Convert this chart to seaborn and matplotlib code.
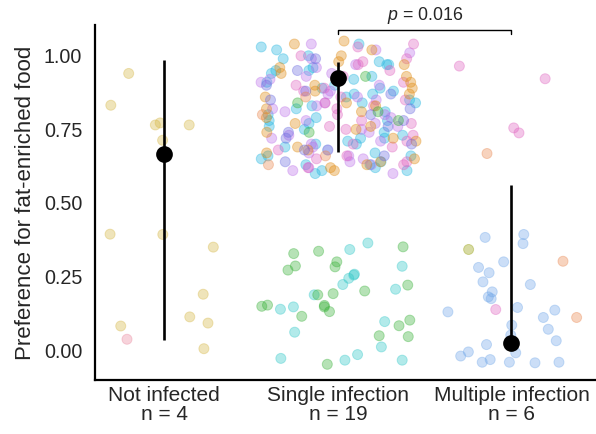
import numpy as np
import pandas as pd
import matplotlib
matplotlib.use("Agg")
import matplotlib.pyplot as plt
import seaborn as sns

# ---------------- data ----------------
categories = ["Not infected", "Single infection", "Multiple infection"]
n_labels = ["n = 4", "n = 19", "n = 6"]

# Not infected
ni_tan = [0.94, 0.832, 0.772, 0.765, 0.765, 0.713, 0.394, 0.393, 0.35,
          0.19, 0.113, 0.082, 0.092, 0.005]
ni_rose = [0.037]

# Single infection (upper cloud)
si_cyan = [1.04, 1.03, 1.02, 1.00, 0.99, 0.98, 0.97, 0.96, 0.95, 0.95, 0.94,
           0.93, 0.92, 0.91, 0.90, 0.89, 0.88, 0.87, 0.87, 0.86, 0.85, 0.84,
           0.83, 0.82, 0.81, 0.80, 0.79, 0.78, 0.77, 0.76, 0.75, 0.74, 0.73,
           0.72, 0.71, 0.70, 0.70, 0.69, 0.68, 0.67, 0.66, 0.65, 0.64, 0.63,
           0.63, 0.62, 0.61, 0.61, 0.60, 0.97, 0.89, 0.84, 0.78, 0.72, 0.66]
si_lavender = [1.04, 1.02, 1.01, 0.99, 0.97, 0.96, 0.94, 0.92, 0.91, 0.90,
               0.88, 0.86, 0.85, 0.84, 0.83, 0.81, 0.80, 0.79, 0.77, 0.76,
               0.75, 0.74, 0.73, 0.71, 0.70, 0.68, 0.67, 0.66, 0.65, 0.64,
               0.62, 0.61, 0.60, 0.93, 0.87, 0.82, 0.78, 0.72, 0.69, 0.63]
si_pink = [1.04, 1.03, 1.00, 0.98, 0.97, 0.95, 0.93, 0.91, 0.89, 0.88, 0.86,
           0.85, 0.83, 0.82, 0.80, 0.78, 0.76, 0.75, 0.73, 0.71, 0.69, 0.68,
           0.66, 0.65, 0.63, 0.62, 0.99, 0.90, 0.84, 0.77, 0.70, 0.64]
si_orange = [1.05, 1.04, 1.02, 1.00, 0.98, 0.96, 0.94, 0.93, 0.91, 0.89,
             0.88, 0.86, 0.84, 0.83, 0.81, 0.79, 0.77, 0.76, 0.74, 0.72,
             0.71, 0.69, 0.67, 0.65, 0.64, 0.62, 0.61, 0.97, 0.90, 0.82,
             0.75, 0.68, 0.63, 0.87]
si_violet = [0.99, 0.95, 0.90, 0.87, 0.85, 0.82, 0.80, 0.78, 0.76, 0.74,
             0.72, 0.70, 0.68, 0.66, 0.64, 0.88]
si_green_up = [0.93, 0.84, 0.81, 0.78, 0.74]
si_salmon_up = [0.86, 0.80, 0.66, 0.63]
# Single infection (lower cloud)
si_aqua = [0.342, 0.364, 0.244, 0.258, 0.255, 0.285, 0.223, 0.207, 0.188,
           0.139, 0.147, 0.097, 0.061, 0.011, -0.034, -0.034, -0.028, -0.015]
si_green = [0.336, 0.351, 0.328, 0.286, 0.283, 0.30, 0.272, 0.188, 0.201,
            0.192, 0.153, 0.147, 0.152, 0.131, 0.149, 0.115, 0.102, 0.083,
            0.046, 0.049, -0.048, 0.221]

# Multiple infection
mi_sky = [0.383, 0.393, 0.362, 0.30, 0.281, 0.263, 0.223, 0.232, 0.175,
          0.198, 0.181, 0.136, 0.145, 0.13, 0.111, 0.085, 0.071, 0.051,
          0.019, 0.032, -0.006, -0.041, -0.041, -0.041, -0.02, -0.032,
          -0.009, -0.043]
mi_pink = [0.965, 0.922, 0.738, 0.755, 0.138]
mi_salmon = [0.668, 0.302, 0.111]
mi_olive = [0.342]

# summary (point + interval)
summary_center = [0.668, 0.923, 0.023]
summary_low = [0.034, 0.673, 0.023]
summary_high = [0.987, 0.979, 0.560]
p_text = "$p$ = 0.016"

palette = {
    "tan": "#D5B642", "rose": "#E9859C", "cyan": "#1EB4E0",
    "lavender": "#BC6FE9", "pink": "#E063C0", "orange": "#E08A10",
    "violet": "#6B6BE0", "green": "#35B035", "aqua": "#2CC7C7",
    "sky": "#6FA6E9", "salmon": "#E9854D", "olive": "#909B00",
}

groups = [
    (categories[0], "tan", ni_tan), (categories[0], "rose", ni_rose),
    (categories[1], "cyan", si_cyan), (categories[1], "lavender", si_lavender),
    (categories[1], "pink", si_pink), (categories[1], "orange", si_orange),
    (categories[1], "violet", si_violet), (categories[1], "green", si_green_up),
    (categories[1], "salmon", si_salmon_up), (categories[1], "aqua", si_aqua),
    (categories[1], "green", si_green),
    (categories[2], "sky", mi_sky), (categories[2], "pink", mi_pink),
    (categories[2], "salmon", mi_salmon), (categories[2], "olive", mi_olive),
]
rows = []
for cat, strain, vals in groups:
    for v in vals:
        rows.append({"group": cat, "strain": strain, "pref": v})
df = pd.DataFrame(rows)
df_sum = pd.DataFrame({"group": categories, "center": summary_center})

# ---------------- plot ----------------
sns.set_style("white")
plt.rcParams["font.family"] = ["Liberation Sans", "DejaVu Sans"]
plt.rcParams["mathtext.fontset"] = "custom"
plt.rcParams["mathtext.rm"] = "Liberation Sans"
plt.rcParams["mathtext.it"] = "Liberation Sans:italic"

fig = plt.figure(figsize=(5.96, 4.34), dpi=100)
ax = fig.add_axes([0.159, 0.124, 0.839, 0.818])

np.random.seed(11)
jitters = {categories[0]: 0.32, categories[1]: 0.46, categories[2]: 0.38}
for cat in categories:
    sns.stripplot(data=df[df["group"] == cat], x="group", y="pref",
                  hue="strain", order=categories, palette=palette,
                  jitter=jitters[cat], size=7.2, alpha=0.36, linewidth=0.7,
                  edgecolor="face", legend=False, ax=ax, zorder=2)

ax.vlines(np.arange(len(categories)), summary_low, summary_high,
          color="black", linewidth=1.9, zorder=4)
sns.pointplot(data=df_sum, x="group", y="center", order=categories,
              color="black", linestyle="none", markersize=10,
              errorbar=None, ax=ax, zorder=5)

ax.set_xlim(-0.40, 2.48)
ax.set_ylim(-0.102, 1.104)
ax.set_yticks([0, 0.25, 0.5, 0.75, 1.0])
ax.set_yticklabels(["0.00", "0.25", "0.50", "0.75", "1.00"], fontsize=14.2)
ax.set_xticks(range(len(categories)))
ax.set_xticklabels([f"{c}\n{n}" for c, n in zip(categories, n_labels)],
                   fontsize=15, linespacing=1.0)
ax.set_xlabel("")
ax.set_ylabel("Preference for fat-enriched food", fontsize=16, labelpad=6)

for s in ["top", "right"]:
    ax.spines[s].set_visible(False)
for s in ["left", "bottom"]:
    ax.spines[s].set_linewidth(1.6)
    ax.spines[s].set_color("black")
ax.tick_params(axis="y", length=5.5, width=1.3, color="black", pad=3.5)
ax.tick_params(axis="x", length=0, pad=4)

# significance bracket
ax.plot([1, 1, 2, 2], [1.075, 1.087, 1.087, 1.075], color="black",
        linewidth=1.0, clip_on=False, zorder=6)
ax.text(1.5, 1.102, p_text, ha="center", va="bottom", fontsize=12.8,
        clip_on=False)

fig.savefig("out.png", dpi=100)
